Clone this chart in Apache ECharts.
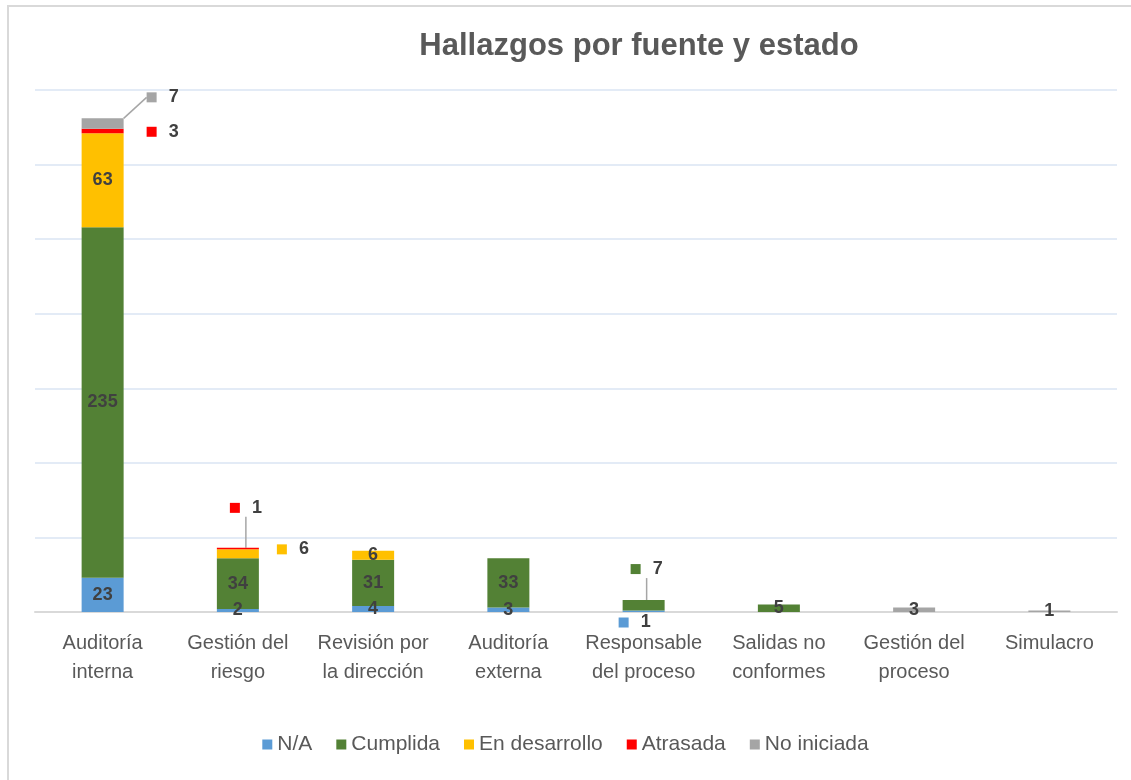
<!DOCTYPE html>
<html><head><meta charset="utf-8">
<script src="https://cdn.jsdelivr.net/npm/echarts@6/dist/echarts.min.js"></script>
<style>html,body{margin:0;padding:0;background:#fff}#c{width:1131px;height:780px}</style>
</head><body><div id="c"></div>
<script>
const categories = ['Auditoría\ninterna','Gestión del\nriesgo','Revisión por\nla dirección','Auditoría\nexterna','Responsable\ndel proceso','Salidas no\nconformes','Gestión del\nproceso','Simulacro'];
const seriesNames = ['N/A','Cumplida','En desarrollo','Atrasada','No iniciada'];
const naValues        = [23, 2, 4, 3, 1, 0, 0, 0];
const cumplidaValues  = [235, 34, 31, 33, 7, 5, 0, 0];
const desarrolloValues= [63, 6, 6, 0, 0, 0, 0, 0];
const atrasadaValues  = [3, 1, 0, 0, 0, 0, 0, 0];
const noIniciadaValues= [7, 0, 0, 0, 0, 0, 3, 1];
const colors = ['#5b9bd5','#538135','#ffc000','#ff0000','#a5a5a5'];

// label overrides (series index, category index) -> offset from bar rect top-left, leader line
const calloutLabels = [
  {s:4, i:0, pos:[65,-21], line:true},
  {s:3, i:0, pos:[65,3], line:false},
  {s:3, i:1, pos:[13,-40], line:true},
  {s:2, i:1, pos:[60,0], line:false},
  {s:1, i:4, pos:[8,-31], line:true},
  {s:0, i:4, pos:[-4,12], line:false}
];

const allValues = [naValues, cumplidaValues, desarrolloValues, atrasadaValues, noIniciadaValues];
const FONT = 'Liberation Sans';

const series = allValues.map((vals, s) => ({
  name: seriesNames[s],
  type: 'bar',
  stack: 'total',
  barWidth: 42,
  itemStyle: {color: colors[s]},
  label: {
    show: true, position: 'inside',
    fontFamily: FONT, fontWeight: 'bold', fontSize: 18, color: '#404040',
    formatter: p => p.value ? String(p.value) : ''
  },
  data: vals.map((v, i) => {
    const c = calloutLabels.find(o => o.s === s && o.i === i);
    if (!c) return {value: v};
    const item = {
      value: v,
      label: {
        show: true, position: c.pos, align: 'left', verticalAlign: 'middle',
        formatter: '{sq|}{gap|}{v|' + v + '}',
        rich: {
          sq: {width: 10, height: 10, backgroundColor: colors[s]},
          gap: {width: 12},
          v: {fontFamily: FONT, fontWeight: 'bold', fontSize: 18, color: '#404040'}
        }
      }
    };
    if (c.line) item.labelLine = {show: true, length2: 0, lineStyle: {color: '#a6a6a6', width: 1.5}};
    return item;
  })
}));

const chart = echarts.init(document.getElementById('c'));
chart.setOption({
  animation: false,
  backgroundColor: '#fff',
  title: {
    text: 'Hallazgos por fuente y estado',
    left: 634, top: 26, textAlign: 'center',
    textStyle: {fontFamily: FONT, fontWeight: 'bold', fontSize: 31, color: '#595959'}
  },
  graphic: [{type: 'rect', shape: {x: 8, y: 6, width: 1140, height: 800}, style: {fill: 'none', stroke: '#d9d9d9', lineWidth: 2}}],
  legend: {
    bottom: 20, left: 'center',
    itemWidth: 10, itemHeight: 10, itemGap: 24, icon: 'rect',
    textStyle: {fontFamily: FONT, fontSize: 21, color: '#595959'},
    data: seriesNames
  },
  grid: {left: 35, right: 14, top: 90, bottom: 168, containLabel: false},
  xAxis: {
    type: 'category', data: categories,
    axisLine: {lineStyle: {color: '#d9d9d9', width: 2}},
    axisTick: {show: false},
    axisLabel: {fontFamily: FONT, fontSize: 20, color: '#595959', lineHeight: 29, margin: 17, interval: 0}
  },
  yAxis: {
    type: 'value', min: 0, max: 350, interval: 50,
    axisLabel: {show: false}, axisLine: {show: false}, axisTick: {show: false},
    splitLine: {lineStyle: {color: '#dae5f3', width: 1.5}}
  },
  series: series
});
</script></body></html>
